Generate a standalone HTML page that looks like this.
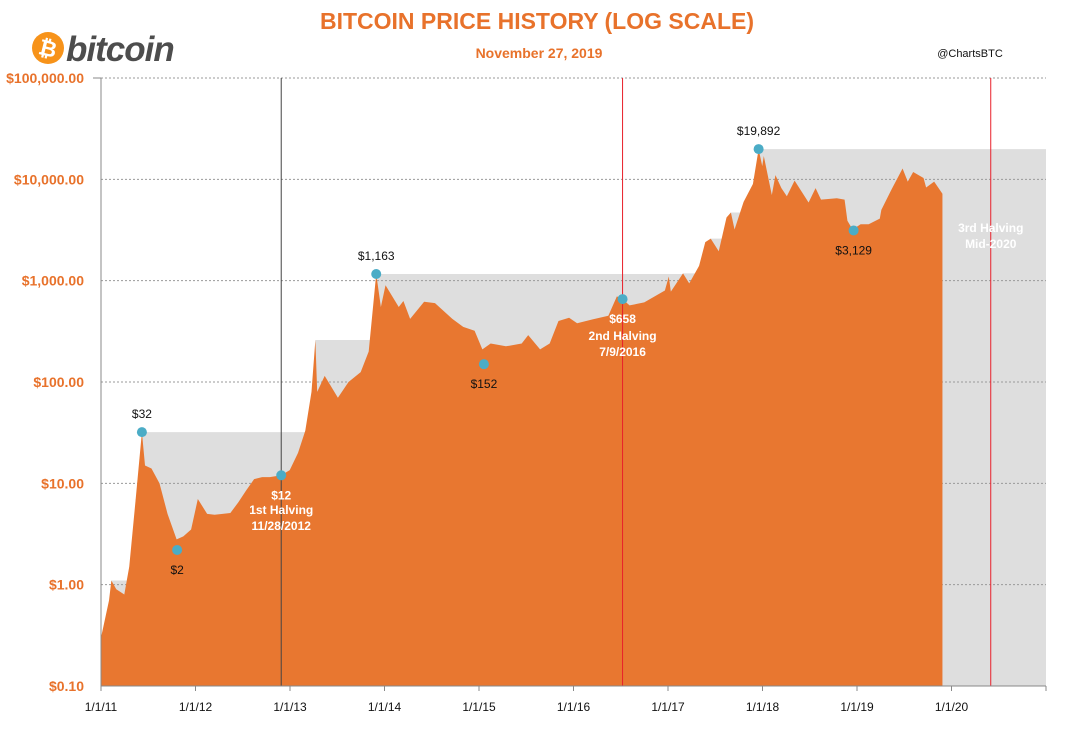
<!DOCTYPE html>
<html><head><meta charset="utf-8">
<style>
body{margin:0;background:#fff;font-family:"Liberation Sans",sans-serif;}
svg{display:block}
</style></head>
<body>
<svg id="chart" width="1068" height="731" xmlns="http://www.w3.org/2000/svg">
  <g>
    <circle cx="48" cy="48" r="16" fill="#F7931A"/>
    <text x="48" y="56" text-anchor="middle" font-size="22" font-weight="bold" fill="#fff" font-family="DejaVu Sans, sans-serif" transform="rotate(14 48 48)">₿</text>
    <text x="66" y="61" font-size="35" font-weight="bold" font-style="italic" fill="#4d4d4d" font-family="Liberation Sans, sans-serif" letter-spacing="-1">bitcoin</text>
  </g>
  <text x="537" y="29" text-anchor="middle" font-size="23" font-weight="bold" fill="#E8722B">BITCOIN PRICE HISTORY (LOG SCALE)</text>
  <text x="539" y="58" text-anchor="middle" font-size="14" font-weight="bold" fill="#E8722B">November 27, 2019</text>
  <text x="970" y="57" text-anchor="middle" font-size="11" fill="#111">@ChartsBTC</text>
  <g id="plot"></g>
</svg>
<script>
const dates=["2011-01-01","2011-02-01","2011-02-10","2011-03-01","2011-04-01","2011-04-20","2011-05-15","2011-06-08","2011-06-20","2011-07-15","2011-08-15","2011-09-15","2011-10-20","2011-11-15","2011-12-15","2012-01-10","2012-02-15","2012-03-15","2012-04-15","2012-05-15","2012-06-15","2012-07-15","2012-08-15","2012-09-15","2012-10-15","2012-11-28","2012-12-31","2013-02-01","2013-03-01","2013-03-25","2013-04-09","2013-04-16","2013-05-15","2013-07-05","2013-08-15","2013-10-01","2013-11-01","2013-11-30","2013-12-18","2014-01-05","2014-02-25","2014-03-15","2014-04-10","2014-06-03","2014-07-15","2014-09-20","2014-11-01","2014-12-15","2015-01-14","2015-02-15","2015-04-15","2015-06-15","2015-07-10","2015-08-25","2015-10-01","2015-11-04","2015-12-15","2016-01-15","2016-03-15","2016-05-15","2016-06-17","2016-07-09","2016-08-05","2016-10-01","2016-12-20","2017-01-04","2017-01-12","2017-02-28","2017-03-24","2017-05-01","2017-05-25","2017-06-15","2017-07-16","2017-08-15","2017-09-01","2017-09-15","2017-10-20","2017-11-25","2017-12-17","2017-12-31","2018-01-06","2018-02-06","2018-02-20","2018-03-15","2018-04-05","2018-05-05","2018-06-28","2018-07-25","2018-08-15","2018-10-15","2018-11-14","2018-11-25","2018-12-15","2019-01-15","2019-02-15","2019-03-30","2019-04-05","2019-05-15","2019-06-26","2019-07-16","2019-08-06","2019-09-15","2019-09-25","2019-10-26","2019-11-27"];
const prices=[0.3,0.7,1.1,0.9,0.8,1.5,7,32,15,14,10,5,2.8,3,3.5,7,5,4.9,5,5.1,6.5,8.5,11,11.5,11.5,12,13.5,20,33,80,260,80,115,70,100,125,200,1163,550,900,550,630,420,620,600,420,350,320,210,240,225,240,290,210,240,400,430,380,415,450,700,658,570,610,800,1100,780,1180,940,1400,2400,2600,1950,4200,4700,3200,6000,9000,19892,13500,17000,7000,11000,8200,6800,9700,5900,8200,6300,6500,6300,3900,3200,3600,3600,4100,5000,8000,12800,9500,11800,10300,8300,9500,7200];
const yTicks=[0.1,1,10,100,1000,10000,100000];
const yTickLabels=["$0.10","$1.00","$10.00","$100.00","$1,000.00","$10,000.00","$100,000.00"];
const xTickLabels=["1/1/11","1/1/12","1/1/13","1/1/14","1/1/15","1/1/16","1/1/17","1/1/18","1/1/19","1/1/20"];
const xTickYears=[2011,2012,2013,2014,2015,2016,2017,2018,2019,2020];
const halvingDates=["2012-11-28","2016-07-09","2020-06-01"];
const annDates=["2011-06-08","2011-10-22","2012-11-28","2013-11-30","2015-01-20","2016-07-09","2017-12-17","2018-12-19"];
const annValues=[32,2.2,12,1163,150,658,19892,3129];
const annLabels=["$32","$2","$12","$1,163","$152","$658","$19,892","$3,129"];

const L=101,R=1046,T=78,B=686;
function yr(d){const t=new Date(d+"T00:00:00Z");const y=t.getUTCFullYear();const s=Date.UTC(y,0,1),e=Date.UTC(y+1,0,1);return y+(t-s)/(e-s);}
function X(v){return L+(v-2011)/10*(R-L);}
function Y(p){return B-(Math.log10(p)+1)/6*(B-T);}
const NS="http://www.w3.org/2000/svg";
const g=document.getElementById('plot');
function el(tag,attrs,parent){const e=document.createElementNS(NS,tag);for(const k in attrs)e.setAttribute(k,attrs[k]);(parent||g).appendChild(e);return e;}

let ath=0,gd="M"+X(yr(dates[0]))+","+B;
dates.forEach((d,i)=>{const x=X(yr(d));if(prices[i]>ath){gd+=" L"+x+","+Y(ath||prices[i]);ath=prices[i];}gd+=" L"+x+","+Y(ath);});
gd+=" L"+R+","+Y(ath)+" L"+R+","+B+" Z";
const gray=el('path',{d:gd,fill:'#DEDEDE'});



yTicks.forEach((v,i)=>{const y=Y(v);
 const ln=el('line',{x1:L,x2:R,y1:y,y2:y,stroke:'#999','stroke-dasharray':'2,2','stroke-width':1});
 
 
 const t=el('text',{x:84,y:y+5,'text-anchor':'end','font-size':14,'font-weight':'bold',fill:'#E8722B'});
 t.textContent=yTickLabels[i];
 
 
});

let pd="M"+X(yr(dates[0]))+","+B;
dates.forEach((d,i)=>{pd+=" L"+X(yr(d))+","+Y(prices[i]);});
pd+=" L"+X(yr(dates[dates.length-1]))+","+B+" Z";
const area=el('path',{d:pd,fill:'#E87730'});



halvingDates.forEach((d,i)=>{const x=X(yr(d));
 const ln=el('line',{x1:x,x2:x,y1:T,y2:B,stroke:i==0?'#444':'#E8202A','stroke-width':1});
 
 
});

const ax=el('line',{x1:L,x2:L,y1:T,y2:B,stroke:'#888'});


const bx=el('line',{x1:L,x2:R,y1:B,y2:B,stroke:'#888'});


el('line',{x1:L-8,x2:L,y1:T,y2:T,stroke:'#888'});
for(let yv=2011;yv<=2021;yv++){const x=X(yv);el('line',{x1:x,x2:x,y1:B,y2:B+5,stroke:'#888'});}
xTickYears.forEach((yv,i)=>{const t=el('text',{x:X(yv),y:711,'text-anchor':'middle','font-size':12,fill:'#111'});
 t.textContent=xTickLabels[i];
 
 
});

const white=[false,false,true,false,false,true,false,false];
const below=[false,true,true,false,true,true,false,true];
annDates.forEach((d,i)=>{const x=X(yr(d)),y=Y(annValues[i]);
 const c=el('circle',{cx:x,cy:y,r:5,fill:'#4BACC6'});
 
 
 const t=el('text',{x:x,y:below[i]?y+24:y-14,'text-anchor':'middle','font-size':12,fill:white[i]?'#fff':'#111','font-weight':white[i]?'bold':'normal'});
 t.textContent=annLabels[i];
 
 
});
function note(lines,x,y,name){lines.forEach((s,i)=>{const t=el('text',{x:x,y:y+i*16,'text-anchor':'middle','font-size':12,'font-weight':'bold',fill:'#fff'});t.textContent=s;
 
 });}
note(["1st Halving","11/28/2012"],X(yr("2012-11-28")),514,'halving-1-note');
note(["2nd Halving","7/9/2016"],X(yr("2016-07-09")),340,'halving-2-note');
note(["3rd Halving","Mid-2020"],X(yr("2020-06-01")),232,'halving-3-note');
</script>
</body></html>
